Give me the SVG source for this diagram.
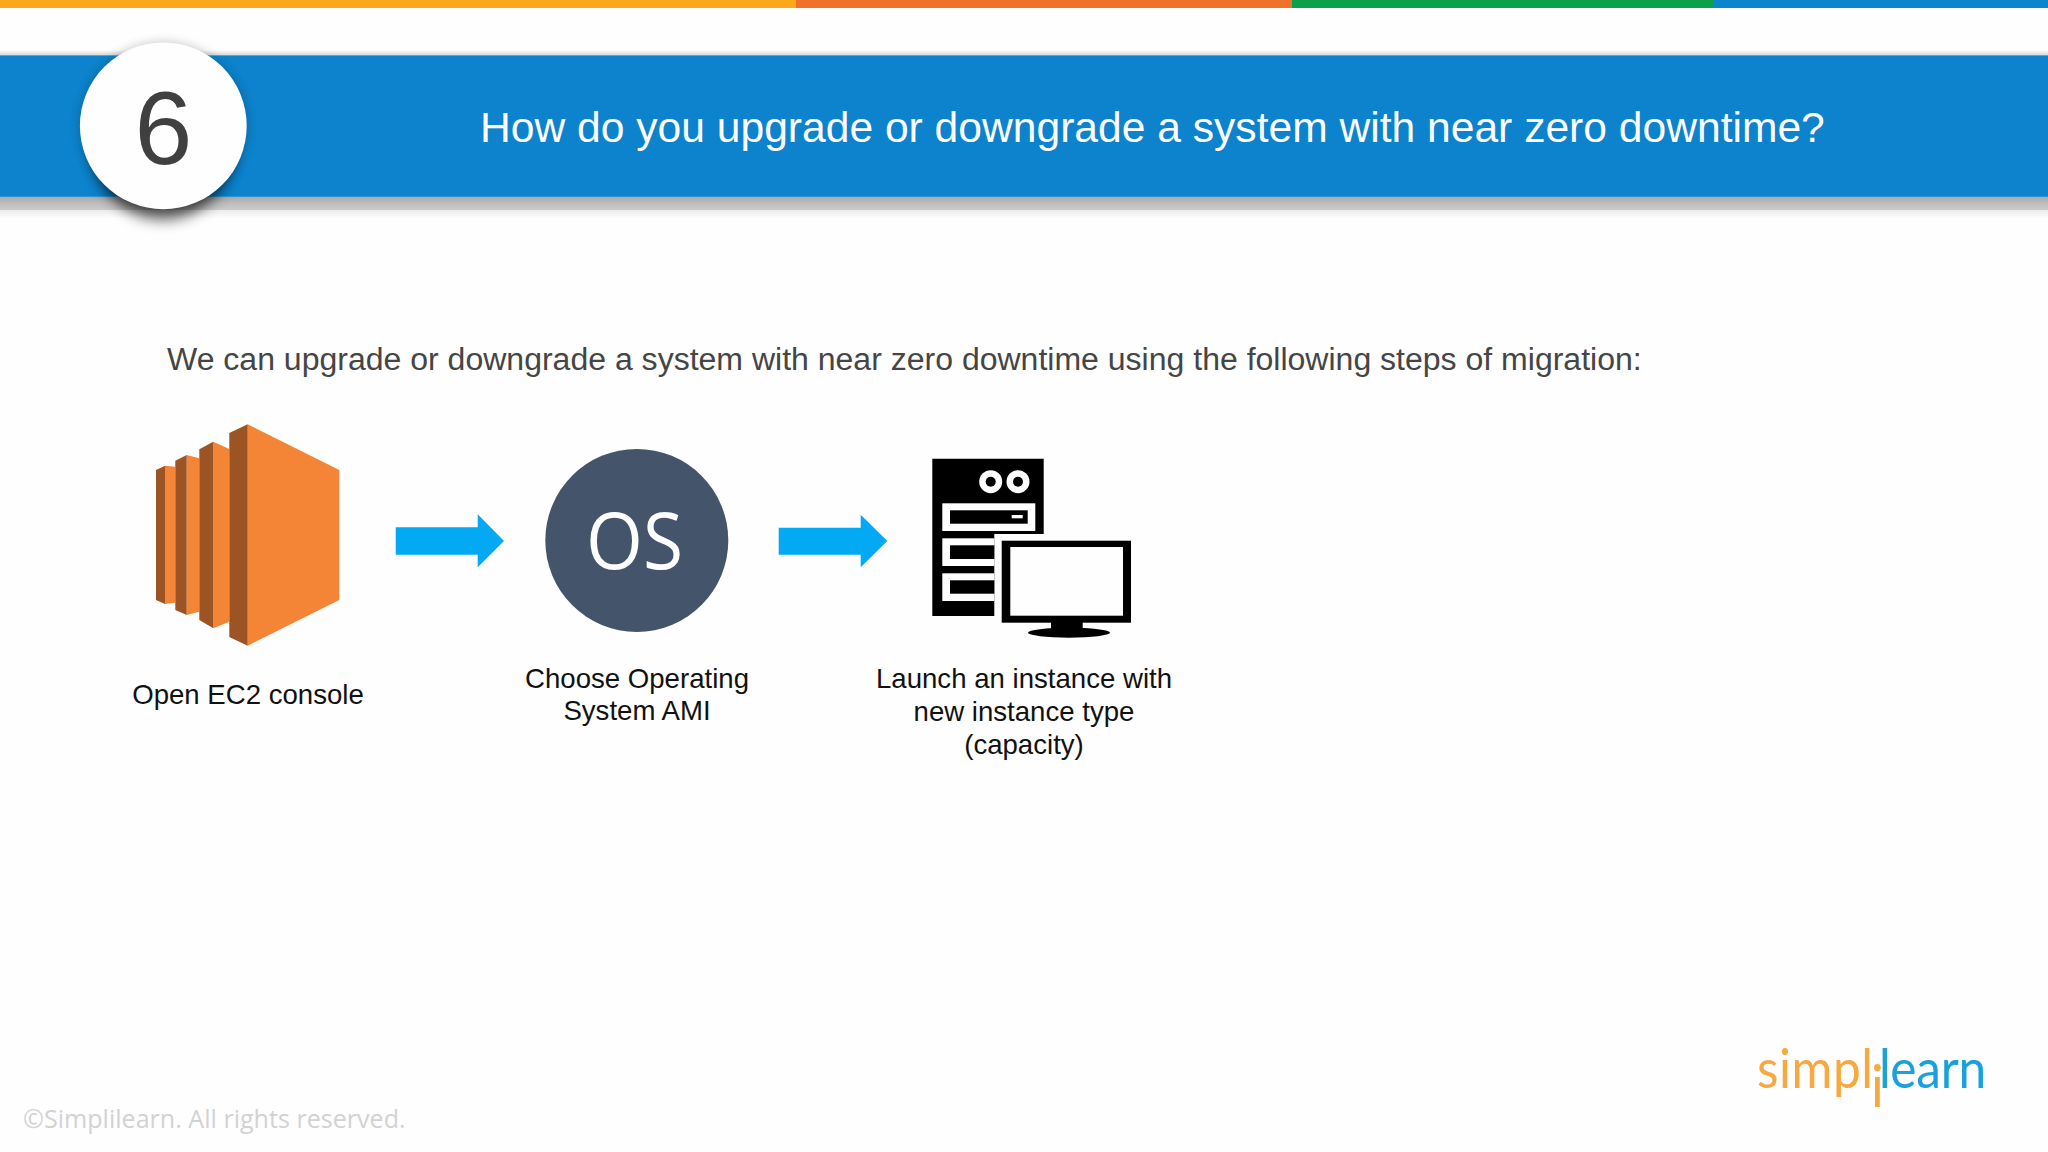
<svg xmlns="http://www.w3.org/2000/svg" width="2048" height="1152" viewBox="0 0 2048 1152">
<defs>
<style>
.sans{font-family:"Liberation Sans",Arial,sans-serif}
.label{font-family:"Liberation Sans",Arial,sans-serif;font-size:27.6px;fill:#111;text-anchor:middle}
.arrow{fill:#04A9F3}
.dark{fill:#9D5425}
.org{fill:#F58536}
.k{fill:#000}
.w{fill:#fefefe}
.logo{font-family:"Lato","Open Sans",sans-serif;font-size:54px}
</style>
<linearGradient id="fade" x1="0" y1="0" x2="0" y2="1">
<stop offset="0" stop-color="#a8a8a8"/><stop offset="0.3" stop-color="#bdbdbd"/><stop offset="0.6" stop-color="#cbcbcb"/><stop offset="0.63" stop-color="#ececec"/><stop offset="1" stop-color="#fefefe"/>
</linearGradient>
<linearGradient id="topfade" x1="0" y1="0" x2="0" y2="1">
<stop offset="0" stop-color="#fefefe"/><stop offset="1" stop-color="#d8d8d8"/>
</linearGradient>
<filter id="sh" x="-30%" y="-30%" width="160%" height="170%"><feGaussianBlur stdDeviation="7"/></filter>
<filter id="sh2" x="-30%" y="-30%" width="160%" height="160%"><feGaussianBlur stdDeviation="5"/></filter>
</defs>
<rect width="2048" height="1152" fill="#fefefe"/>
<g id="topbar">
<rect x="0" y="0" width="796" height="8" fill="#FBA91A"/>
<rect x="796" y="0" width="496" height="8" fill="#F1702A"/>
<rect x="1292" y="0" width="422" height="8" fill="#0BA14B"/>
<rect x="1714" y="0" width="334" height="8" fill="#0C85CD"/>
</g>
<g id="header">
<rect x="0" y="50" width="2048" height="5" fill="url(#topfade)"/>
<rect x="0" y="196.500" width="2048" height="22" fill="url(#fade)"/>
<rect x="0" y="55.300" width="2048" height="141.500" fill="#0C83CC"/>
<text class="sans" x="480" y="142" font-size="42.6" fill="#fefefe">How do you upgrade or downgrade a system with near zero downtime?</text>
</g>
<g id="badge">
<circle cx="163.500" cy="126" r="85" fill="#000" opacity="0.18" filter="url(#sh2)"/>
<ellipse cx="163" cy="150" rx="70" ry="70" fill="#000" opacity="0.6" filter="url(#sh)"/>
<circle cx="163.300" cy="125.800" r="83.400" fill="#fefefe"/>
<text class="sans" x="163.500" y="164" font-size="104" fill="#404040" text-anchor="middle">6</text>
</g>
<text id="intro" class="sans" x="167" y="370" font-size="32.03" fill="#454545">We can upgrade or downgrade a system with near zero downtime using the following steps of migration:</text>
<g id="node-ec2">
<polygon class="org" points="165,465.700 175.300,466.700 175.300,602.700 165,604"/>
<polygon class="dark" points="156,470 165,465.700 165,604 156,600"/>
<polygon class="org" points="186.700,455 199.300,458.300 199.300,611.700 186.700,615"/>
<polygon class="dark" points="175.300,460.700 186.700,455 186.700,615 175.300,610"/>
<polygon class="org" points="213.300,441.700 229.300,449 229.300,621.700 213.300,628.300"/>
<polygon class="dark" points="199.300,449.300 213.300,441.700 213.300,628.300 199.300,620"/>
<polygon class="org" points="247.700,424.300 339.300,470 339.300,600 247.700,645.700"/>
<polygon class="dark" points="229.300,433 247.700,424.300 247.700,645.700 229.300,637"/>
<text class="label" x="248" y="703.500">Open EC2 console</text>
</g>
<g id="node-os">
<circle cx="636.800" cy="540.400" r="91.500" fill="#44546A"/>
<text x="586" y="569" font-family="'Open Sans',sans-serif" font-size="78" fill="#fefefe" textLength="97" lengthAdjust="spacingAndGlyphs">OS</text>
<text class="label" x="637" y="687.500">Choose Operating</text>
<text class="label" x="637" y="720">System AMI</text>
</g>
<g id="node-instance">
<polygon class="k" points="932.300,458.700 1043.700,458.700 1043.700,534 994.300,534 994.300,616 932.300,616"/>
<circle class="w" cx="990.700" cy="481.700" r="11.500"/><circle class="k" cx="990.700" cy="481.700" r="5"/>
<circle class="w" cx="1018" cy="481.700" r="11.500"/><circle class="k" cx="1018" cy="481.700" r="5"/>
<rect class="w" x="942.300" y="503.300" width="93" height="27.700"/>
<rect class="k" x="950" y="510.300" width="77.700" height="13.400"/>
<rect class="w" x="1011.700" y="515" width="11" height="3.300"/>
<rect class="w" x="942.300" y="538.300" width="52" height="27.700"/>
<rect class="k" x="950" y="545.300" width="44.300" height="13.700"/>
<rect class="w" x="942.300" y="573.300" width="52" height="27.700"/>
<rect class="k" x="950" y="580.300" width="44.300" height="13.400"/>
<rect class="k" x="1001.700" y="540.700" width="129.300" height="82"/>
<rect class="w" x="1010.300" y="547" width="112.700" height="68.700"/>
<rect class="k" x="1051" y="622" width="31.700" height="9"/>
<ellipse class="k" cx="1069" cy="632.700" rx="41" ry="5"/>
<text class="label" x="1024" y="687.500">Launch an instance with</text>
<text class="label" x="1024" y="721">new instance type</text>
<text class="label" x="1024" y="754">(capacity)</text>
</g>
<g id="connectors">
<polygon class="arrow" points="395.700,527.300 477.700,527.300 477.700,514.300 504,541 477.700,567.300 477.700,554.700 395.700,554.700"/>
<polygon class="arrow" points="778.700,527.700 860.700,527.700 860.700,514.700 887.300,541 860.700,567.300 860.700,554.700 778.700,554.700"/>
</g>
<g id="logo">
<text class="logo" transform="translate(1757,1088) scale(.92,1)" fill="#F7A941"><tspan letter-spacing="0.6">simpl</tspan><tspan x="124" y="19" style="font-size:58px">i</tspan><tspan x="132.500" y="0" fill="#1AA1DC" letter-spacing="-0.3">learn</tspan></text>
</g>
<text id="copyright" x="23" y="1128" font-family="'Open Sans',sans-serif" font-size="25.1" fill="#d2d2d4">©Simplilearn. All rights reserved.</text>
</svg>
